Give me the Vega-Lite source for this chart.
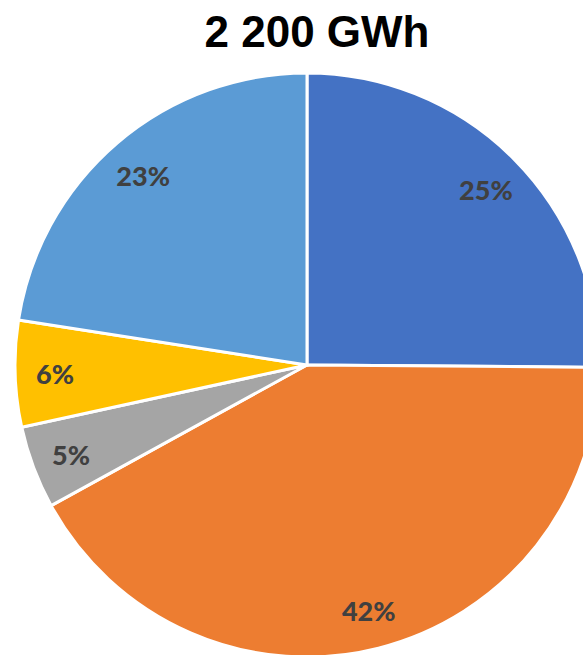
{
  "$schema": "https://vega.github.io/schema/vega-lite/v6.json",
  "autosize": "none",
  "padding": 0,
  "width": 614,
  "height": 730,
  "background": "white",
  "title": {
    "text": "2 200 GWh",
    "font": "Liberation Sans",
    "fontSize": 44,
    "fontWeight": "bold",
    "color": "#000000",
    "anchor": "middle",
    "frame": "group",
    "baseline": "alphabetic",
    "offset": -48,
    "dy": 43,
    "dx": 10
  },
  "data": {
    "values": [
      {"category": "A", "value": 25.2, "label": "25%", "order": 1},
      {"category": "B", "value": 42.0, "label": "42%", "order": 2},
      {"category": "C", "value": 4.6, "label": "5%", "order": 3},
      {"category": "D", "value": 5.9, "label": "6%", "order": 4},
      {"category": "E", "value": 22.6, "label": "23%", "order": 5}
    ]
  },
  "encoding": {
    "theta": {"field": "value", "type": "quantitative", "stack": true},
    "order": {"field": "order", "type": "quantitative"},
    "color": {
      "field": "category",
      "type": "nominal",
      "scale": {
        "domain": ["A", "B", "C", "D", "E"],
        "range": ["#4472C4", "#ED7D31", "#A5A5A5", "#FFC000", "#5B9BD5"]
      },
      "legend": null
    }
  },
  "layer": [
    {
      "mark": {"type": "arc", "outerRadius": 292, "stroke": "white", "strokeWidth": 3}
    },
    {
      "mark": {
        "type": "text",
        "radius": 252,
        "font": "Lato",
        "fontSize": 27,
        "fontWeight": 900,
        "baseline": "middle",
        "dy": 4
      },
      "encoding": {
        "text": {"field": "label"},
        "color": {"value": "#404040"}
      }
    }
  ],
  "config": {"view": {"stroke": null}}
}
